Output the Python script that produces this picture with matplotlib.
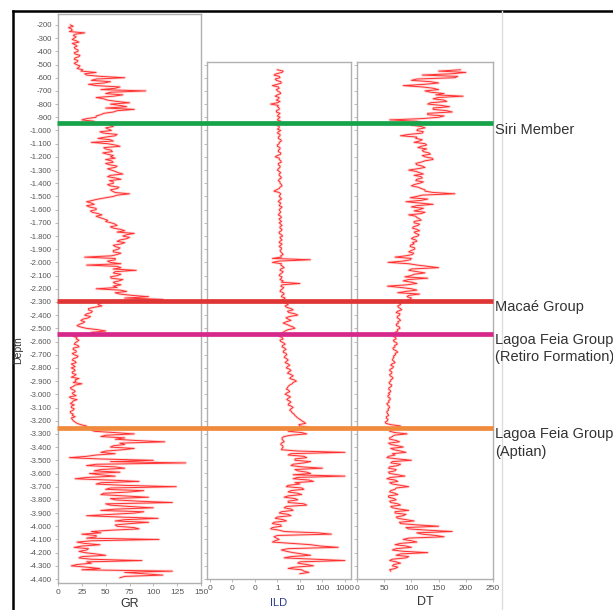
import numpy as np
import matplotlib
matplotlib.use("Agg")
import matplotlib.pyplot as plt
from matplotlib.lines import Line2D
from matplotlib.ticker import FixedLocator, FuncFormatter
import matplotlib.transforms as mtransforms

# ---- data (depth in m, step 10) ----
gr_top, ild_top, dt_top, step = 200, 540, 540, 10

gr = [13, 16, 11, 14, 15, 12, 28, 18, 16, 19, 17, 15, 19, 22, 15, 18, 20, 17, 18, 21,
      21, 17, 18, 23, 22, 18, 17, 21, 20, 17, 19, 23, 22, 20, 26, 24, 40, 28, 30, 45,
      70, 40, 35, 55, 48, 32, 40, 65, 60, 45, 92, 55, 50, 68, 58, 40, 48, 52, 62, 75,
      55, 65, 72, 50, 80, 62, 58, 48, 45, 40, 40, 30, 25, 38, 35, 50, 55, 58, 50, 53,
      56, 44, 48, 62, 60, 50, 42, 55, 58, 35, 52, 60, 65, 48, 50, 56, 57, 47, 52, 58,
      55, 60, 50, 56, 58, 50, 54, 62, 60, 52, 56, 60, 63, 68, 55, 52, 60, 66, 54, 58,
      58, 52, 55, 64, 62, 55, 57, 60, 75, 62, 58, 50, 42, 36, 30, 35, 38, 30, 33, 40,
      40, 34, 36, 42, 46, 40, 44, 48, 52, 50, 56, 60, 62, 55, 58, 66, 70, 62, 80, 72,
      68, 75, 72, 65, 62, 70, 66, 58, 60, 65, 63, 58, 58, 66, 62, 56, 28, 60, 60, 52,
      55, 66, 30, 62, 66, 58, 82, 60, 58, 66, 62, 55, 56, 68, 64, 58, 60, 66, 58, 62,
      40, 65, 72, 60, 65, 78, 95, 70, 110, 60, 48, 44, 42, 46, 38, 32, 32, 36, 35, 30,
      28, 34, 32, 26, 24, 28, 26, 22, 20, 24, 30, 42, 50, 35, 40, 22, 16, 20, 19, 22,
      20, 18, 17, 21, 22, 16, 16, 19, 19, 15, 17, 21, 20, 16, 15, 18, 19, 14, 16, 18,
      14, 17, 18, 15, 15, 19, 17, 14, 22, 18, 19, 16, 25, 18, 16, 13, 14, 17, 18, 15,
      16, 19, 12, 14, 20, 16, 15, 13, 17, 14, 14, 17, 16, 13, 13, 16, 15, 18, 14, 15,
      16, 18, 20, 24, 30, 28, 45, 35, 38, 60, 80, 50, 45, 70, 60, 82, 112, 65, 70, 58,
      55, 80, 68, 50, 45, 60, 40, 30, 12, 45, 100, 55, 134, 40, 30, 60, 70, 45, 38, 65,
      33, 45, 60, 30, 18, 55, 85, 45, 40, 70, 124, 55, 50, 90, 75, 48, 45, 70, 95, 55,
      60, 85, 120, 50, 55, 75, 100, 60, 45, 90, 80, 55, 30, 65, 105, 70, 60, 95, 75, 60,
      62, 80, 85, 55, 35, 45, 25, 40, 40, 30, 106, 35, 20, 28, 44, 25, 17, 32, 30, 22,
      28, 40, 50, 25, 22, 35, 88, 30, 35, 20, 14, 30, 44, 25, 120, 70, 90, 110, 70, 65]

ild = [1.0, 1.8, 1.6, 0.9, 0.7, 1.2, 1.3, 0.8, 0.9, 1.4, 1.5, 1.0, 0.6, 1.1, 1.2, 0.9, 1.0, 1.3, 1.4, 1.0,
       0.8, 1.2, 1.1, 0.9, 1.3, 1.0, 0.5, 1.1, 1.0, 1.2, 1.2, 0.9, 0.9, 1.3, 1.1, 1.0, 1.3, 1.1, 1.0, 1.4,
       1.1, 1.0, 0.9, 1.2, 1.2, 1.0, 1.4, 1.1, 1.0, 1.3, 1.3, 1.1, 1.1, 1.4, 1.5, 1.2, 1.2, 1.0, 1.0, 1.3,
       1.3, 1.1, 1.1, 1.4, 1.4, 1.0, 0.8, 1.2, 1.2, 1.4, 1.5, 1.1, 1.1, 1.3, 1.3, 1.1, 1.0, 1.2, 1.4, 1.2,
       1.2, 1.4, 1.5, 1.2, 1.1, 1.3, 1.3, 1.5, 1.6, 1.3, 1.2, 0.9, 0.7, 1.2, 1.4, 1.3, 1.2, 1.4, 1.5, 1.2,
       1.1, 1.4, 1.3, 1.2, 1.6, 1.4, 1.2, 1.3, 1.4, 1.2, 1.1, 1.4, 1.5, 1.2, 1.3, 1.5, 1.2, 1.4, 1.6, 1.3,
       1.3, 1.6, 1.5, 1.2, 1.2, 1.5, 1.7, 1.3, 1.4, 1.6, 1.3, 1.2, 1.6, 1.4, 1.2, 1.5, 1.5, 1.3, 1.4, 1.6,
       1.8, 1.4, 1.5, 0.6, 29, 1.2, 0.6, 1.5, 1.4, 1.7, 2.0, 1.4, 1.3, 1.8, 1.6, 1.3, 1.2, 1.6, 1.5, 1.3,
       1.8, 1.5, 10, 1.6, 1.4, 1.9, 1.7, 1.4, 1.3, 1.8, 2.0, 1.6, 1.5, 2.2, 1.9, 1.5, 1.6, 2.4, 3.0, 2.2,
       2.5, 4, 5, 2.8, 3.2, 6, 8, 3.5, 2.4, 3, 4, 2.5, 1.8, 2.6, 3.5, 5, 6, 3, 2.2, 1.8,
       1.5, 1.3, 1.2, 1.6, 1.8, 1.3, 1.4, 1.9, 2.2, 1.7, 1.6, 2.1, 2.4, 1.9, 1.8, 2.4, 2.6, 2.2, 2.0, 2.6,
       3.0, 2.5, 2.2, 3.0, 3.5, 2.8, 2.5, 3.5, 4.0, 3.2, 2.8, 4.0, 5.0, 4.0, 3.5, 5.5, 7.0, 5.0, 4.5, 3.5,
       3.0, 2.8, 2.5, 3.2, 3.5, 2.6, 2.2, 3.0, 3.8, 3.0, 2.6, 3.4, 4.0, 3.2, 3.0, 4.2, 5.0, 4.0, 3.5, 4.2,
       4.5, 5.5, 6, 7, 8, 10, 12, 15, 18, 9, 10, 25, 60, 8, 3, 12, 20, 4, 2, 1.6,
       1.6, 1.8, 2.0, 1.5, 1.4, 1.7, 1.8, 1.6, 1.5, 8, 1000, 4, 3, 15, 20, 6, 6, 30, 15, 5,
       4, 12, 100, 6, 8, 20, 30, 5, 1000, 8, 5, 25, 40, 6, 10, 3, 2.5, 12, 15, 4,
       3, 8, 12, 3, 2, 6, 8, 3, 3, 15, 20, 2.5, 2, 4, 5, 1.5, 1.2, 3, 4, 1.0,
       0.8, 1.8, 2.5, 0.7, 0.6, 1.4, 1.5, 0.6, 0.5, 1.2, 2, 60, 250, 1.0, 0.7, 0.9, 1.2, 0.8, 0.6, 4,
       30, 80, 500, 3, 1.5, 2.5, 5, 12, 30, 4, 2, 50, 1000, 10, 8, 20, 40, 6, 3, 12,
       15, 25, 10]

dt = [190, 150, 200, 175, 120, 185, 180, 110, 100, 135, 150, 125, 85, 120, 140, 150, 125, 135, 160, 145,
      195, 150, 140, 160, 165, 135, 130, 155, 170, 140, 140, 165, 175, 130, 130, 160, 150, 120, 60, 110,
      120, 108, 100, 118, 125, 112, 110, 122, 120, 95, 80, 110, 108, 120, 115, 105, 125, 128, 118, 112,
      128, 120, 122, 132, 135, 120, 125, 138, 140, 125, 118, 108, 110, 120, 125, 112, 95, 108, 115, 122,
      105, 118, 120, 110, 108, 122, 115, 105, 100, 112, 118, 125, 125, 140, 180, 120, 110, 98, 130, 118,
      90, 115, 140, 110, 100, 122, 115, 105, 125, 118, 95, 108, 110, 115, 118, 105, 105, 115, 112, 104,
      102, 110, 115, 105, 108, 114, 112, 104, 100, 108, 110, 102, 105, 98, 98, 106, 106, 100, 95, 104,
      102, 90, 70, 100, 98, 85, 57, 95, 110, 130, 150, 100, 95, 110, 125, 105, 100, 88, 130, 95,
      85, 100, 110, 92, 56, 80, 100, 110, 90, 75, 115, 95, 92, 100, 97, 90, 85, 78, 80, 75,
      76, 80, 82, 75, 72, 79, 78, 74, 74, 78, 80, 75, 76, 72, 73, 78, 79, 74, 75, 70,
      70, 68, 66, 71, 72, 67, 68, 73, 74, 69, 70, 66, 67, 72, 75, 70, 71, 67, 68, 66,
      65, 68, 70, 64, 62, 67, 66, 61, 60, 64, 64, 60, 61, 65, 66, 62, 62, 59, 60, 64,
      63, 59, 58, 61, 62, 58, 60, 57, 57, 61, 61, 58, 59, 55, 56, 59, 60, 57, 58, 55,
      55, 57, 58, 54, 54, 57, 56, 52, 53, 62, 80, 72, 75, 62, 60, 70, 92, 68, 65, 60,
      60, 72, 78, 58, 62, 75, 85, 62, 68, 80, 90, 65, 70, 58, 55, 75, 100, 65, 62, 80,
      75, 60, 58, 72, 70, 58, 60, 75, 88, 62, 55, 70, 75, 60, 65, 80, 95, 72, 70, 62,
      60, 70, 75, 58, 58, 68, 72, 60, 62, 75, 80, 62, 65, 78, 95, 70, 70, 90, 85, 72,
      75, 90, 105, 78, 80, 110, 150, 90, 95, 130, 175, 110, 120, 145, 160, 95, 85, 100, 110, 80,
      70, 90, 100, 72, 65, 85, 130, 80, 72, 95, 90, 65, 60, 72, 80, 68, 65, 75, 70, 60,
      62]

tops = [945, 2290, 2540, 3255]
top_names = ["Siri Member", "Macaé Group", "Lagoa Feia Group\n(Retiro Formation)",
             "Lagoa Feia Group\n(Aptian)"]
top_colors = ["#17a34a", "#e03535", "#d6278a", "#f08a3c"]

depth_ticks = list(range(200, 4401, 100))
gr_ticks = [0, 25, 50, 75, 100, 125, 150]
ild_ticks = [0.001, 0.01, 0.1, 1, 10, 100, 1000]
dt_ticks = [0, 50, 100, 150, 200, 250]

gr_depth = -(gr_top + step * np.arange(len(gr)))
ild_depth = -(ild_top + step * np.arange(len(ild)))
dt_depth = -(dt_top + step * np.arange(len(dt)))

W, H = 613, 610
fig = plt.figure(figsize=(W / 100, H / 100), dpi=100)
plt.rcParams['font.family'] = ['Liberation Sans', 'DejaVu Sans']


def box(x0, y0, x1, y1):
    return [x0 / W, 1 - y1 / H, (x1 - x0) / W, (y1 - y0) / H]


ax_gr = fig.add_axes(box(58, 14, 201, 583))
ax_ild = fig.add_axes(box(207, 62, 351, 579))
ax_dt = fig.add_axes(box(357, 62, 493, 579))

curve = "#ff3030"
for ax, x, y in [(ax_gr, gr, gr_depth), (ax_ild, ild, ild_depth), (ax_dt, dt, dt_depth)]:
    ax.plot(x, y, color="#ff8080", lw=2.0, alpha=0.3)
    ax.plot(x, y, color=curve, lw=0.7)
    for s in ax.spines.values():
        s.set_color("#b0b0b0")
        s.set_linewidth(1.0)
    ax.tick_params(axis="both", labelsize=6, colors="#b0b0b0", labelcolor="#555555",
                   length=2.5, width=0.6, pad=2)
    ax.yaxis.set_major_locator(FixedLocator([-d for d in depth_ticks]))

ax_gr.set_ylim(-4430, -117)
ax_ild.set_ylim(-4400, -481)
ax_dt.set_ylim(-4400, -481)

ax_gr.yaxis.set_major_formatter(FuncFormatter(lambda v, p: f"{int(v):,}".replace(",", ".")))
ax_gr.tick_params(axis="y", labelsize=5.6, labelcolor="#555555")
ax_ild.tick_params(axis="y", labelleft=False)
ax_dt.tick_params(axis="y", labelleft=False)

ax_gr.set_xlim(0, 150)
ax_gr.set_xticks(gr_ticks)
ax_ild.set_xscale("log")
ax_ild.set_xlim(10 ** -3.13, 10 ** 3.27)
ax_ild.set_xticks(ild_ticks)
ax_ild.xaxis.set_major_formatter(FuncFormatter(lambda v, p: f"{v:.0f}"))
ax_ild.minorticks_off()
ax_dt.set_xlim(0, 250)
ax_dt.set_xticks(dt_ticks)

ax_gr.set_xlabel("GR", fontsize=9, color="#333333", labelpad=1)
ax_ild.set_xlabel("ILD", fontsize=8, color="#2b3f8f", labelpad=4)
ax_dt.set_xlabel("DT", fontsize=9, color="#333333", labelpad=3)
fig.text(18 / W, 1 - 350 / H, "Depth", rotation=90, fontsize=7.5, color="#333333",
         ha="center", va="center")

# formation tops across all tracks
trans = mtransforms.blended_transform_factory(fig.transFigure, ax_gr.transData)
for d, name, c in zip(tops, top_names, top_colors):
    fig.add_artist(Line2D([57 / W, 493 / W], [-d, -d], transform=trans, color=c,
                          lw=3.4, solid_capstyle="butt"))
    fig.text(495 / W, -d + 5, name, transform=trans, fontsize=10.5, color="#333333",
             ha="left", va="top", linespacing=1.3)

# frame lines
fig.add_artist(Line2D([13 / W, 1], [1 - 11 / H, 1 - 11 / H], color="black", lw=1.8))
fig.add_artist(Line2D([13 / W, 13 / W], [0, 1 - 11 / H], color="black", lw=1.8))
fig.add_artist(Line2D([502 / W, 502 / W], [0, 1 - 11 / H], color="#dddddd", lw=1.0))

fig.savefig("out.png", dpi=100)
